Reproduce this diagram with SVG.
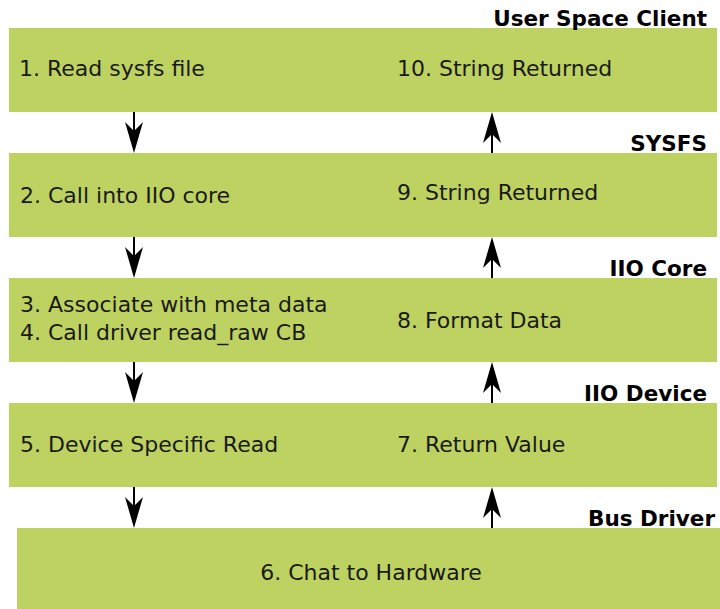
<svg xmlns="http://www.w3.org/2000/svg" width="720" height="609" viewBox="0 0 720 609">
<defs>
<style>
.band{fill:#bed262;}
.t{font-family:"DejaVu Sans","Liberation Sans",sans-serif;font-size:22px;fill:#1a1a1a;}
.h{font-family:"DejaVu Sans","Liberation Sans",sans-serif;font-size:21.5px;font-weight:bold;fill:#000;text-anchor:end;}
.ln{stroke:#000;stroke-width:2;fill:none;}
.ah{fill:#000;}
</style>
<path id="down" class="ah" d="M0,0 L-9,-31 L0,-22 L9,-31 Z"/>
<path id="up" class="ah" d="M0,0 L-9,31 L0,22 L9,31 Z"/>
</defs>
<rect width="720" height="609" fill="#fff"/>

<g id="user-space-client">
<rect class="band" x="9" y="28" width="708" height="84"/>
<text class="h" x="707" y="26">User Space Client</text>
<text class="t" x="19" y="76">1. Read sysfs file</text>
<text class="t" x="397" y="76">10. String Returned</text>
</g>

<g id="sysfs">
<rect class="band" x="9" y="153" width="708" height="84"/>
<text class="h" x="707" y="151">SYSFS</text>
<text class="t" x="20" y="203">2. Call into IIO core</text>
<text class="t" x="397" y="200">9. String Returned</text>
</g>

<g id="iio-core">
<rect class="band" x="9" y="278" width="708" height="84"/>
<text class="h" x="707" y="276">IIO Core</text>
<text class="t" x="20" y="312">3. Associate with meta data</text>
<text class="t" x="20" y="340">4. Call driver read_raw CB</text>
<text class="t" x="397" y="328">8. Format Data</text>
</g>

<g id="iio-device">
<rect class="band" x="9" y="403" width="708" height="84"/>
<text class="h" x="707" y="401">IIO Device</text>
<text class="t" x="20" y="452">5. Device Specific Read</text>
<text class="t" x="397" y="452">7. Return Value</text>
</g>

<g id="bus-driver">
<rect class="band" x="17" y="528" width="703" height="81"/>
<text class="h" x="715" y="526">Bus Driver</text>
<text class="t" x="371" y="580" text-anchor="middle">6. Chat to Hardware</text>
</g>

<g id="connectors">
<line class="ln" x1="134" y1="112" x2="134" y2="133"/>
<use href="#down" x="134" y="153"/>
<line class="ln" x1="134" y1="237" x2="134" y2="258"/>
<use href="#down" x="134" y="278"/>
<line class="ln" x1="134" y1="362" x2="134" y2="383"/>
<use href="#down" x="134" y="403"/>
<line class="ln" x1="134" y1="487" x2="134" y2="508"/>
<use href="#down" x="134" y="528"/>

<line class="ln" x1="492" y1="132" x2="492" y2="153"/>
<use href="#up" x="492" y="112"/>
<line class="ln" x1="492" y1="257" x2="492" y2="278"/>
<use href="#up" x="492" y="237"/>
<line class="ln" x1="492" y1="382" x2="492" y2="403"/>
<use href="#up" x="492" y="362"/>
<line class="ln" x1="492" y1="507" x2="492" y2="528"/>
<use href="#up" x="492" y="487"/>
</g>
</svg>
